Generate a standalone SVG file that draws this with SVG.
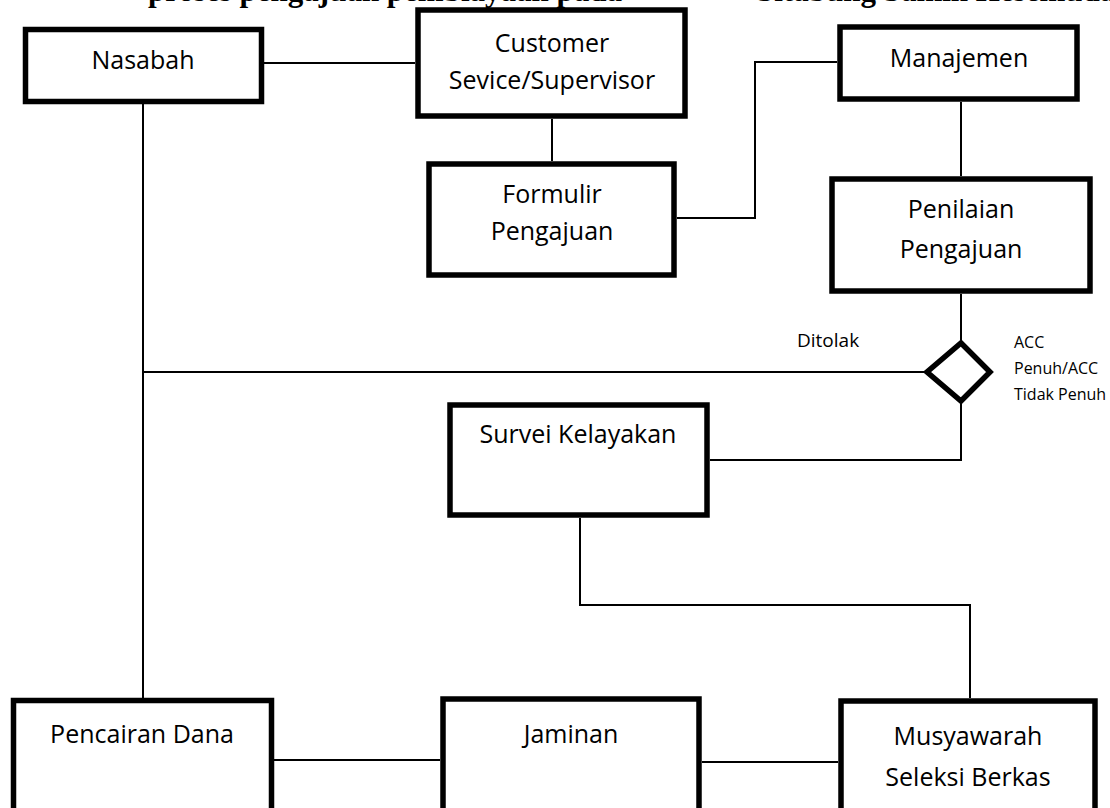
<svg xmlns="http://www.w3.org/2000/svg" width="1110" height="808" viewBox="0 0 1110 808">
<style>
.box{fill:#fff;stroke:#000;stroke-width:5.5;stroke-linejoin:miter}
.lbl{font-family:"Open Sans","Liberation Sans",sans-serif;font-size:25px;fill:#000;text-anchor:middle}
.sm{font-family:"Open Sans","Liberation Sans",sans-serif;fill:#000}
.con{fill:none;stroke:#000;stroke-width:2}
.title{font-family:"Liberation Serif",serif;font-weight:bold;font-size:31px;fill:#000}
</style>
<rect width="1110" height="808" fill="#fff"/>
<text class="title" y="0.5"><tspan x="148">proses pengajuan pembiayaan pada</tspan><tspan x="757">Sitabung Samin Hesemuda</tspan></text>
<g id="connectors">
<line class="con" x1="264" y1="63" x2="415" y2="63"/>
<line class="con" x1="143" y1="104" x2="143" y2="698"/>
<line class="con" x1="552" y1="119" x2="552" y2="161"/>
<polyline class="con" points="677,218 755,218 755,62 837,62"/>
<line class="con" x1="961" y1="102" x2="961" y2="176"/>
<line class="con" x1="961" y1="294" x2="961" y2="340"/>
<line class="con" x1="143" y1="372" x2="924" y2="372"/>
<polyline class="con" points="961,403 961,460 710,460"/>
<polyline class="con" points="580,518 580,605 970,605 970,698"/>
<line class="con" x1="274" y1="760" x2="440" y2="760"/>
<line class="con" x1="702" y1="762" x2="838" y2="762"/>
</g>
<g id="nasabah"><rect class="box" x="25.5" y="29.5" width="236" height="72"/><text class="lbl" x="143" y="69">Nasabah</text></g>
<g id="customer"><rect class="box" x="418" y="10" width="267" height="106"/><text class="lbl" x="552" y="52">Customer</text><text class="lbl" x="552" y="89">Sevice/Supervisor</text></g>
<g id="formulir"><rect class="box" x="429" y="164" width="245" height="111"/><text class="lbl" x="552" y="203">Formulir</text><text class="lbl" x="552" y="240">Pengajuan</text></g>
<g id="manajemen"><rect class="box" x="840" y="27" width="237" height="72"/><text class="lbl" x="959" y="67">Manajemen</text></g>
<g id="penilaian"><rect class="box" x="832" y="179" width="258" height="112"/><text class="lbl" x="961" y="218">Penilaian</text><text class="lbl" x="961" y="258">Pengajuan</text></g>
<g id="keputusan"><polygon class="box" points="961,343 990,372 961,401 927,372"/>
<text class="sm" x="797" y="347" font-size="19">Ditolak</text>
<text class="sm" font-size="16"><tspan x="1014" y="348">ACC</tspan><tspan x="1014" y="374">Penuh/ACC</tspan><tspan x="1014" y="400">Tidak Penuh</tspan></text></g>
<g id="survei"><rect class="box" x="450" y="405" width="257" height="110"/><text class="lbl" x="578" y="443">Survei Kelayakan</text></g>
<g id="pencairan"><rect class="box" x="13.5" y="700.5" width="258" height="130"/><text class="lbl" x="142" y="743">Pencairan Dana</text></g>
<g id="jaminan"><rect class="box" x="443" y="699" width="256" height="130"/><text class="lbl" x="571" y="743">Jaminan</text></g>
<g id="musyawarah"><rect class="box" x="841" y="701" width="254" height="130"/><text class="lbl" x="968" y="745">Musyawarah</text><text class="lbl" x="968" y="786">Seleksi Berkas</text></g>
</svg>
